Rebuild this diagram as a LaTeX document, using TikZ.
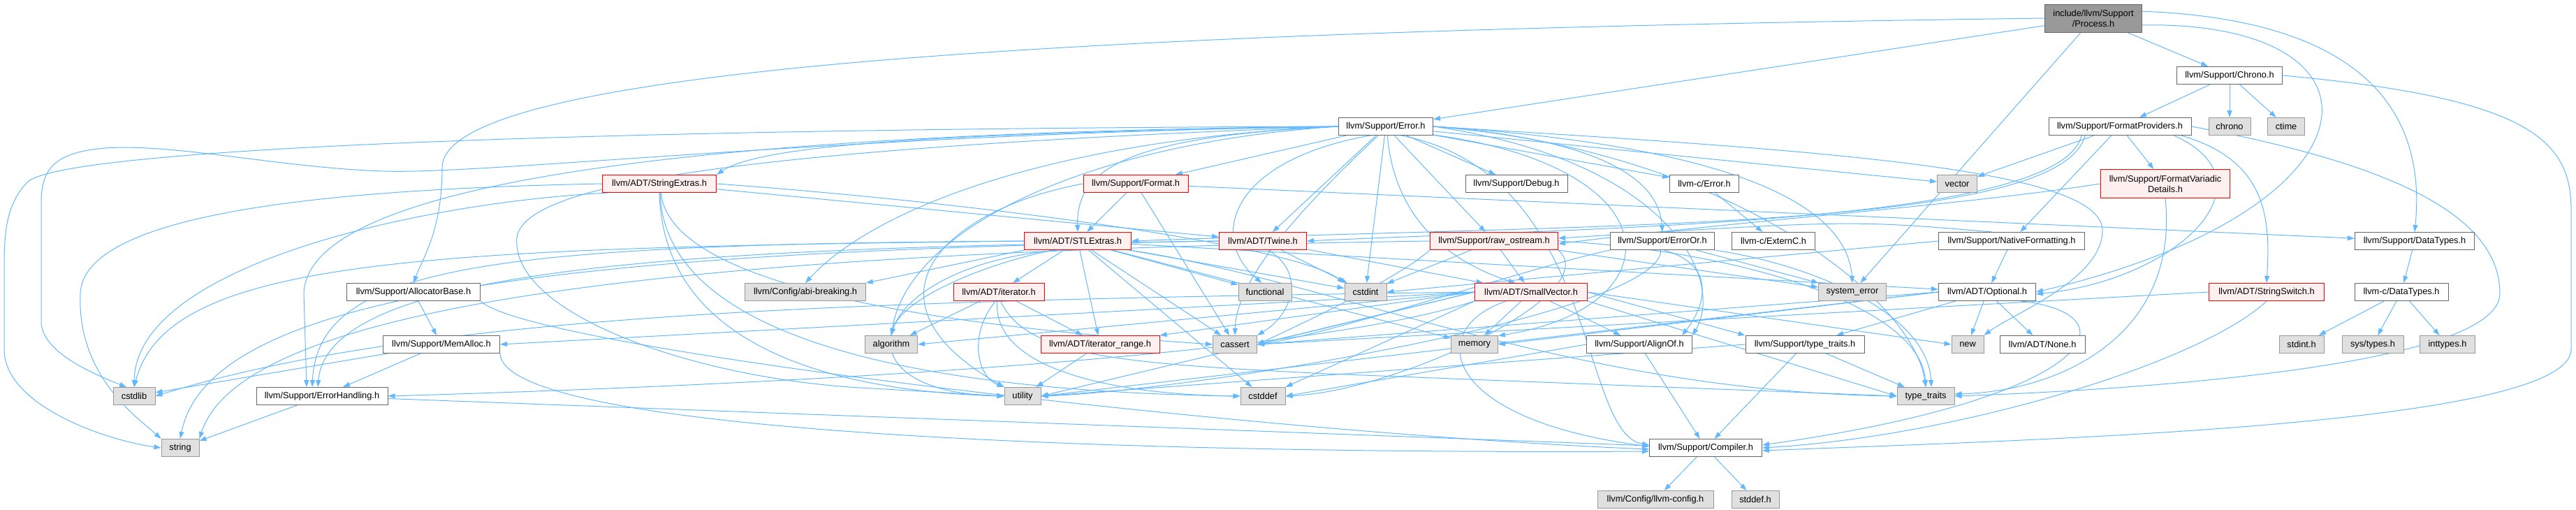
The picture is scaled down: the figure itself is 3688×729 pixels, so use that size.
\documentclass[tikz,border=0pt]{standalone}
\usepackage{fontspec}
\setmainfont{Liberation Sans}
\usetikzlibrary{arrows.meta}
\definecolor{edgec}{HTML}{63B8FF}
\definecolor{bwhite}{HTML}{666666}
\definecolor{ggray}{HTML}{E0E0E0}
\definecolor{gborder}{HTML}{999999}
\definecolor{rfill}{HTML}{FFF0F0}
\definecolor{rborder}{HTML}{FF0000}
\definecolor{rootfill}{HTML}{999999}
\pgfdeclarelayer{bg}
\pgfsetlayers{bg,main}
\tikzset{
  box/.style={rectangle, line width=1pt, minimum height=25pt, inner sep=0pt, align=center,
    font=\fontsize{12.8}{15}\selectfont, text=black},
  wbox/.style={box, draw=bwhite, fill=white},
  gbox/.style={box, draw=gborder, fill=ggray},
  rbox/.style={box, draw=rborder, fill=rfill},
  rootbox/.style={box, draw=bwhite, fill=rootfill, minimum height=40pt},
  e/.style={draw=edgec, line width=1pt, -{Triangle[length=10pt,width=7pt]}}
}
\begin{document}
\begin{tikzpicture}[x=1pt,y=-1pt]
\useasboundingbox (0,0) rectangle (3688,729);
% row 0-2
\node[rootbox, minimum width=139pt] (proc) at (2997,26) {include/llvm/Support\\/Process.h};
\node[wbox, minimum width=151pt] (chronoh) at (3192,108) {llvm/Support/Chrono.h};
\node[wbox, minimum width=135pt] (errorh) at (1984,181) {llvm/Support/Error.h};
\node[wbox, minimum width=204pt] (fmtprov) at (3035,181) {llvm/Support/FormatProviders.h};
\node[gbox, minimum width=60pt] (chrono) at (3192,181) {chrono};
\node[gbox, minimum width=53pt] (ctime) at (3273,181) {ctime};
% row 3
\node[rbox, minimum width=163pt] (strext) at (944,263) {llvm/ADT/StringExtras.h};
\node[rbox, minimum width=150pt] (format) at (1626,263) {llvm/Support/Format.h};
\node[wbox, minimum width=146pt] (debug) at (2171,263) {llvm/Support/Debug.h};
\node[wbox, minimum width=99pt] (cerror) at (2440,263) {llvm-c/Error.h};
\node[gbox, minimum width=57pt] (vector) at (2802,263) {vector};
\node[rbox, minimum width=185pt, minimum height=41pt] (fvd) at (3100,263) {llvm/Support/FormatVariadic\\Details.h};
% row 4
\node[rbox, minimum width=153pt] (stlext) at (1543,345) {llvm/ADT/STLExtras.h};
\node[rbox, minimum width=125pt] (twine) at (1808,345) {llvm/ADT/Twine.h};
\node[rbox, minimum width=183pt] (rawos) at (2139,345) {llvm/Support/raw\_ostream.h};
\node[wbox, minimum width=149pt] (erroror) at (2380,345) {llvm/Support/ErrorOr.h};
\node[wbox, minimum width=119pt] (externc) at (2539,345) {llvm-c/ExternC.h};
\node[wbox, minimum width=209pt] (natfmt) at (2880,345) {llvm/Support/NativeFormatting.h};
\node[wbox, minimum width=171pt] (dtypes) at (3457,345) {llvm/Support/DataTypes.h};
% row 5
\node[wbox, minimum width=191pt] (allocb) at (592,418) {llvm/Support/AllocatorBase.h};
\node[gbox, minimum width=173pt] (abi) at (1153,418) {llvm/Config/abi-breaking.h};
\node[rbox, minimum width=130pt] (iter) at (1430,418) {llvm/ADT/iterator.h};
\node[gbox, minimum width=76pt] (functional) at (1811,418) {functional};
\node[gbox, minimum width=60pt] (cstdint) at (1955,418) {cstdint};
\node[rbox, minimum width=161pt] (smallvec) at (2192,418) {llvm/ADT/SmallVector.h};
\node[gbox, minimum width=97pt] (syserr) at (2652,418) {system\_error};
\node[wbox, minimum width=139pt] (optional) at (2845,418) {llvm/ADT/Optional.h};
\node[rbox, minimum width=165pt] (strswitch) at (3245,418) {llvm/ADT/StringSwitch.h};
\node[wbox, minimum width=134pt] (cdtypes) at (3438,418) {llvm-c/DataTypes.h};
% row 6
\node[wbox, minimum width=167pt] (memalloc) at (632,493) {llvm/Support/MemAlloc.h};
\node[gbox, minimum width=75pt] (algorithm) at (1276,493) {algorithm};
\node[rbox, minimum width=170pt] (iterrange) at (1575,493) {llvm/ADT/iterator\_range.h};
\node[gbox, minimum width=63pt] (cassert) at (1768,493) {cassert};
\node[gbox, minimum width=67pt] (memory) at (2111,493) {memory};
\node[wbox, minimum width=151pt] (alignof) at (2347,493) {llvm/Support/AlignOf.h};
\node[wbox, minimum width=170pt] (typetraitsh) at (2584,493) {llvm/Support/type\_traits.h};
\node[gbox, minimum width=46pt] (nnew) at (2817,493) {new};
\node[wbox, minimum width=122pt] (none) at (2924,493) {llvm/ADT/None.h};
\node[gbox, minimum width=64pt] (stdint) at (3295,493) {stdint.h};
\node[gbox, minimum width=88pt] (systypes) at (3397,493) {sys/types.h};
\node[gbox, minimum width=79pt] (inttypes) at (3504,493) {inttypes.h};
% row 7
\node[gbox, minimum width=60pt] (cstdlib) at (192,567) {cstdlib};
\node[wbox, minimum width=188pt] (errhand) at (461,567) {llvm/Support/ErrorHandling.h};
\node[gbox, minimum width=52pt] (utility) at (1464,567) {utility};
\node[gbox, minimum width=64pt] (cstddef) at (1808,567) {cstddef};
\node[gbox, minimum width=82pt] (typetraits) at (2757,567) {type\_traits};
% row 8-9
\node[gbox, minimum width=54pt] (nstring) at (258,641) {string};
\node[wbox, minimum width=161pt] (compiler) at (2442,641) {llvm/Support/Compiler.h};
\node[gbox, minimum width=166pt] (llvmconfig) at (2370,715) {llvm/Config/llvm-config.h};
\node[gbox, minimum width=68pt] (stddef) at (2513,715) {stddef.h};

\begin{pgfonlayer}{bg}
% Process.h
\draw[e] (proc) -- (chronoh);
\draw[e] (proc) -- (errorh);
\draw[e] (proc.west) .. controls (1500,45) and (633,100) .. (633,240) .. controls (633,330) and (605,370) .. (allocb.north);
\draw[e] (proc) -- (syserr);
\draw[e] (proc.-8) .. controls (3440,30) and (3420,300) .. (optional.east);
\draw[e] (proc.8) .. controls (3430,30) and (3470,200) .. (dtypes.north);
% Chrono.h
\draw[e] (chronoh) -- (fmtprov);
\draw[e] (chronoh) -- (chrono);
\draw[e] (chronoh) -- (ctime);
\draw[e] (chronoh.east) .. controls (3620,140) and (3681,200) .. (3681,300) -- (3681,500) .. controls (3681,610) and (2900,630) .. ([yshift=-4pt]compiler.east);
% FormatProviders.h
\draw[e] (fmtprov) -- (vector);
\draw[e] (fmtprov) -- (fvd);
\draw[e] (fmtprov) -- (natfmt);
\draw[e] ([xshift=-15pt]fmtprov.south east) .. controls (3250,230) and (3250,320) .. (strswitch.north);
\draw[e] ([xshift=-25pt]fmtprov.south east) .. controls (3260,260) and (3120,400) .. ([yshift=-3pt]optional.east);
\draw[e] (fmtprov.east) .. controls (3400,230) and (3579,300) .. (3579,420) .. controls (3579,530) and (3000,560) .. (typetraits.east);
\draw[e] ([xshift=-50pt]fmtprov.south) .. controls (2950,330) and (2300,320) .. (stlext.east);
\draw[e] ([xshift=-55pt]fmtprov.south) .. controls (2950,320) and (2300,325) .. (twine.east);
% Error.h
\draw[e] (errorh) -- (cerror);
\draw[e] (errorh.west) .. controls (1620,195) and (1540,240) .. (stlext.north);
\draw[e] (errorh.-80) .. controls (1995,300) and (2060,370) .. (smallvec.150);
\draw[e] (errorh.west) .. controls (1450,190) and (1100,200) .. (strext.north east);
\draw[e] (errorh) -- (twine);
\draw[e] (errorh.west) .. controls (1500,200) and (1250,300) .. (abi.north);
\draw[e] (errorh.east) .. controls (2390,230) and (2470,400) .. (alignof.north east);
\draw[e] (errorh.-30) .. controls (2290,250) and (2260,620) .. ([yshift=4pt]compiler.west);
\draw[e] (errorh) -- (debug);
\draw[e] (errorh.west) .. controls (1000,190) and (440,260) .. (435,420) -- ([xshift=-22pt]errhand.north);
\draw[e] (errorh.east) .. controls (2300,200) and (2375,260) .. (erroror.north);
\draw[e] (errorh) -- (format);
\draw[e] (errorh) -- (rawos);
\draw[e] (errorh.west) .. controls (1550,205) and (1300,330) .. (algorithm.north);
\draw[e] (errorh.230) .. controls (1860,300) and (1770,400) .. (cassert.north);
\draw[e] (errorh) -- (cstdint);
\draw[e] (errorh.west) .. controls (1200,192) and (700,250) .. (549,245) .. controls (400,240) and (250,205) .. (150,212) .. controls (80,218) and (59,240) .. (59,290) -- (59,460) .. controls (59,500) and (120,530) .. (cstdlib.130);
\draw[e] (errorh.210) .. controls (1760,230) and (1730,340) .. (functional.110);
\draw[e] (errorh.-10) .. controls (2400,240) and (2400,440) .. (memory.20);
\draw[e] (errorh.east) .. controls (2600,215) and (3010,240) .. (3010,330) .. controls (3010,400) and (2880,450) .. (nnew.north east);
\draw[e] (errorh.west) .. controls (900,184) and (100,210) .. (40,260) .. controls (10,290) and (6,330) .. (6,380) -- (6,500) .. controls (6,580) and (150,630) .. (nstring.west);
\draw[e] (errorh.east) .. controls (2500,210) and (2645,300) .. (syserr.north);
\draw[e] (errorh.east) .. controls (2480,215) and (2740,430) .. (typetraits.north);
\draw[e] (errorh.west) .. controls (1000,215) and (750,270) .. (740,340) .. controls (730,450) and (1000,545) .. (1250,556) -- (utility.west);
\draw[e] (errorh) -- (vector);
% StringExtras.h
\draw[e] (strext) -- (twine);
\draw[e] (strext.east) .. controls (1400,290) and (1850,350) .. (cstdint.north west);
\draw[e] (strext.-80) .. controls (960,420) and (1400,470) .. (cassert.west);
\draw[e] (strext.-85) .. controls (950,480) and (1300,560) .. (cstddef.west);
\draw[e] (strext.-90) .. controls (950,500) and (1200,560) .. (utility.west);
\draw[e] (strext.west) .. controls (500,270) and (120,300) .. (115,420) .. controls (110,540) and (200,600) .. (nstring.north west);
\draw[e] (strext.190) .. controls (600,290) and (195,380) .. (cstdlib.north);
% Format.h
\draw[e] (format) -- (stlext);
\draw[e] (format) -- (cassert);
\draw[e] (format) -- (dtypes);
\draw[e] (format.west) .. controls (1350,300) and (1220,430) .. (utility.north west);
% STLExtras.h
\draw[e] (stlext) -- (iter);
\draw[e] (stlext) -- (iterrange);
\draw[e] (stlext) -- (functional);
\draw[e] (stlext) -- (cstdint);
\draw[e] (stlext) -- (cassert);
\draw[e] (stlext) -- (cstddef);
\draw[e] (stlext) -- (memory);
\draw[e] (stlext.-10) .. controls (1900,400) and (2250,560) .. (typetraits.west);
\draw[e] (stlext) -- (optional);
\draw[e] (stlext.south west) -- (abi.north east);
\draw[e] (stlext.200) .. controls (1400,380) and (1290,430) .. (algorithm.north);
\draw[e] (stlext.west) .. controls (700,350) and (455,380) .. ([xshift=-14pt]errhand.north);
\draw[e] (stlext.west) .. controls (600,355) and (240,370) .. (cstdlib.north);
\draw[e] (stlext.205) .. controls (1250,380) and (1180,560) .. (utility.west);
% Twine.h
\draw[e] (twine) -- (smallvec);
\draw[e] (twine) -- (cstdint);
\draw[e] (twine.-60) .. controls (1870,390) and (1850,450) .. (cassert.north east);
\draw[e] (twine.west) .. controls (1000,355) and (470,380) .. ([xshift=-6pt]errhand.north);
\draw[e] (twine.west) .. controls (800,360) and (300,420) .. (nstring.north);
% raw_ostream.h
\draw[e] (rawos) -- (cstdint);
\draw[e] (rawos) -- (smallvec);
\draw[e] (rawos.south west) .. controls (2000,400) and (1850,470) .. (cassert.east);
\draw[e] (rawos.south east) .. controls (2300,420) and (2000,560) .. (cstddef.east);
\draw[e] (rawos.west) .. controls (1000,360) and (350,430) .. (nstring.north east);
\draw[e] (rawos) -- (syserr);
\draw[e] (rawos.east) .. controls (2500,360) and (2750,440) .. (typetraits.north);
% ErrorOr.h
\draw[e] (erroror.-80) .. controls (2460,380) and (2440,440) .. ([xshift=-15pt]alignof.north east);
\draw[e] (erroror.south west) .. controls (2200,380) and (1900,480) .. (cassert.east);
\draw[e] (erroror) -- (syserr);
\draw[e] (erroror.south east) .. controls (2600,380) and (2760,450) .. ([xshift=8pt]typetraits.north);
\draw[e] (erroror.-100) .. controls (2380,450) and (1700,560) .. (utility.east);
% llvm-c/Error.h
\draw[e] (cerror) -- (externc);
% NativeFormatting.h
\draw[e] (natfmt) -- (optional);
\draw[e] (natfmt.west) -- (cstdint.east);
\draw[e] (natfmt.155) .. controls (2650,315) .. ([yshift=4pt]rawos.east);
% FormatVariadicDetails.h
\draw[e] (fvd.west) .. controls (2800,295) and (2500,315) .. ([yshift=-4pt]rawos.east);
\draw[e] (fvd.south) .. controls (3120,480) and (2950,560) .. ([yshift=3pt]typetraits.east);
% StringSwitch.h
\draw[e] (strswitch.west) -- (cassert.east);
\draw[e] (strswitch.south) .. controls (3150,520) and (2800,625) .. (compiler.east);
% DataTypes
\draw[e] (dtypes) -- (cdtypes);
\draw[e] (cdtypes) -- (stdint);
\draw[e] (cdtypes) -- (systypes);
\draw[e] (cdtypes) -- (inttypes);
% AllocatorBase.h
\draw[e] (allocb) -- (memalloc);
\draw[e] (allocb.south east) .. controls (760,500) and (1800,620) .. ([yshift=-2pt]compiler.west);
% MemAlloc.h
\draw[e] (memalloc) -- (cstdlib);
\draw[e] (memalloc) -- (errhand);
\draw[e] (memalloc.south east) .. controls (720,620) and (1600,650) .. ([yshift=-5pt]compiler.west);
% ErrorHandling.h
\draw[e] (errhand) -- (nstring);
\draw[e] (errhand) -- (compiler);
% SmallVector.h
\draw[e] (smallvec) -- (alignof);
\draw[e] (smallvec) -- (memory);
\draw[e] (smallvec.east) -- (typetraitsh.north west);
\draw[e] (smallvec.east) -- (nnew.west);
\draw[e] (smallvec.south east) -- (typetraits.west);
\draw[e] (smallvec.200) .. controls (2040,470) and (2060,600) .. ([yshift=2pt]compiler.west);
\draw[e] (smallvec.west) -- (cassert.east);
\draw[e] (smallvec.south west) -- (cstddef.north east);
\draw[e] (smallvec.west) -- (utility.east);
\draw[e] (smallvec.west) -- (algorithm.east);
\draw[e] (smallvec.west) -- (iterrange.north east);
\draw[e] (smallvec.west) -- (memalloc.east);
\draw[e] (smallvec.west) .. controls (1200,430) and (600,450) .. (cstdlib.east);
\draw[e] (smallvec.south west) .. controls (1900,500) and (1300,545) .. (errhand.east);
% iterator.h
\draw[e] (iter) -- (iterrange);
\draw[e] (iter) -- (algorithm);
\draw[e] (iter.-110) .. controls (1385,480) and (1400,540) .. (utility.north west);
\draw[e] (iter.-100) .. controls (1420,530) and (1600,565) .. (cstddef.west);
\draw[e] (iter.-80) .. controls (1470,510) and (1600,520) .. (1900,535) -- (typetraits.west);
% iterator_range.h
\draw[e] (iterrange) -- (utility);
% Optional.h
\draw[e] (optional) -- (none);
\draw[e] (optional) -- (nnew);
\draw[e] (optional) -- (typetraitsh);
\draw[e] (optional.-15) .. controls (3060,450) and (3000,570) .. ([yshift=4pt]compiler.east);
\draw[e] (optional.west) -- (cassert.east);
\draw[e] (optional.west) -- (memory.east);
\draw[e] (optional.west) -- (utility.east);
% type_traits.h
\draw[e] (typetraitsh) -- (compiler);
\draw[e] (typetraitsh) -- (typetraits);
\draw[e] (typetraitsh.west) -- (utility.east);
% AlignOf.h
\draw[e] (alignof) -- (compiler);
\draw[e] (alignof.west) -- (cstddef.east);
% Compiler.h
\draw[e] (compiler) -- (llvmconfig);
\draw[e] (compiler) -- (stddef);
\end{pgfonlayer}
\end{tikzpicture}
\end{document}
